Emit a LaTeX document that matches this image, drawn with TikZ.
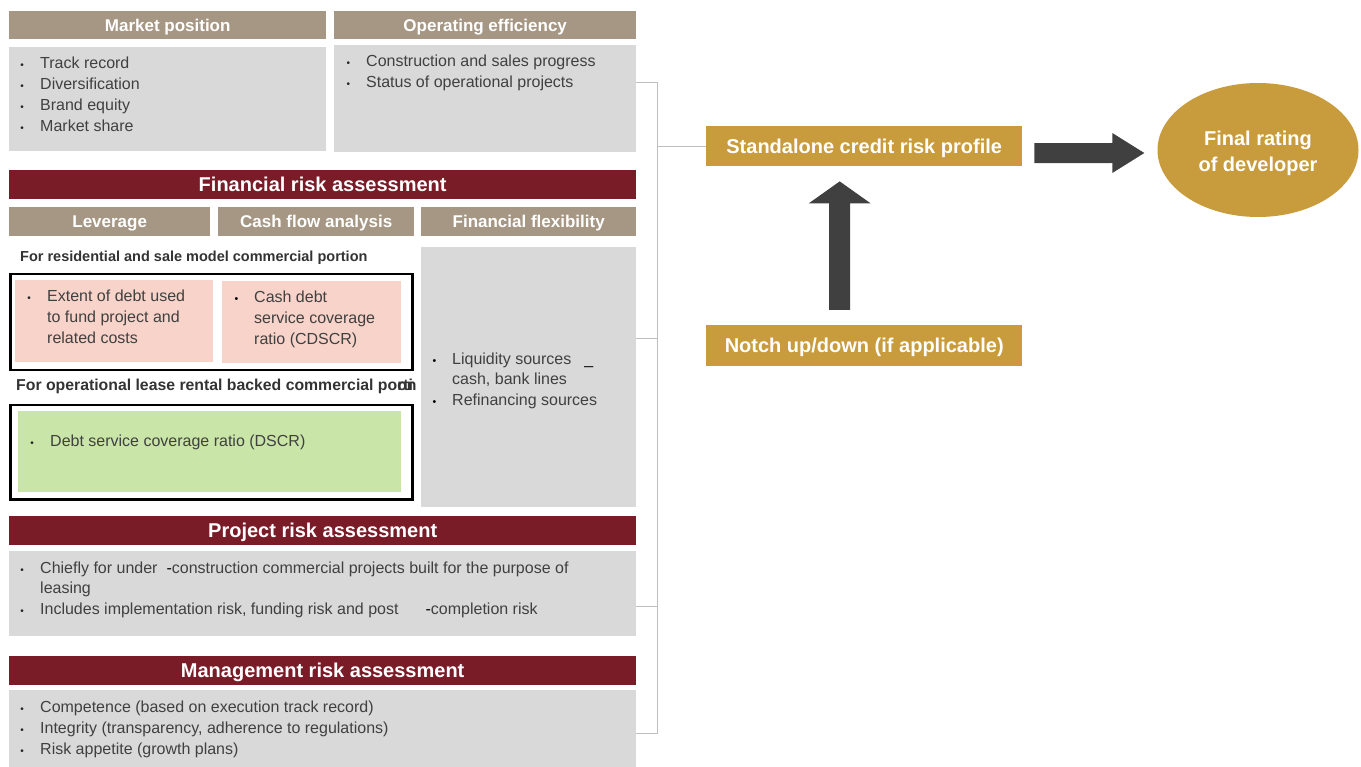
\documentclass[tikz,border=0pt]{standalone}
\usepackage{fontspec}
\setmainfont{Liberation Sans}
\usetikzlibrary{calc,shapes.geometric}
\definecolor{tanc}{HTML}{A69784}
\definecolor{grayb}{HTML}{D9D9D9}
\definecolor{maroon}{HTML}{7A1C28}
\definecolor{gold}{HTML}{C89B3C}
\definecolor{pinkb}{HTML}{F8D3C9}
\definecolor{greenb}{HTML}{C9E6A8}
\definecolor{darkarr}{HTML}{404040}
\definecolor{bodyt}{HTML}{404040}
\definecolor{brk}{HTML}{BFBFBF}
\newcommand{\bu}{\llap{{\color{black!85}\fontsize{10}{10}\selectfont\textbullet}\hspace{16.2pt}}}
\newcommand{\bk}{\llap{{\color{black}\fontsize{10.5}{10}\selectfont\textbullet}\hspace{16pt}}}
\tikzset{
  hdr/.style={fill=tanc, text=white, font=\fontsize{17}{20}\selectfont\bfseries, inner sep=0, anchor=north west, text height=12.2pt, text depth=0pt},
  sec/.style={fill=maroon, text=white, font=\fontsize{20}{24}\selectfont\bfseries, inner sep=0, anchor=north west, minimum width=627, minimum height=28.5, text height=14.4pt, text depth=0pt},
  graybox/.style={fill=grayb, inner sep=0, anchor=north west},
  frame/.style={draw=black, line width=2.5pt, inner sep=0, anchor=north west},
  colbox/.style={inner sep=0, anchor=north west},
  goldbox/.style={fill=gold, text=white, font=\fontsize{20}{24}\selectfont\bfseries, inner sep=0, anchor=north west, minimum width=316, text height=14.4pt, text depth=0pt},
  txt/.style={text=bodyt, font=\fontsize{16}{20.7}\selectfont, inner sep=0, anchor=base west, align=left},
  lbl/.style={text=black!80, font=\fontsize{14.5}{17}\selectfont\bfseries, inner sep=0, anchor=base west},
  arr/.style={fill=darkarr},
  brkline/.style={draw=brk, line width=1pt}
}
\begin{document}
\begin{tikzpicture}[x=1pt,y=-1pt]
\useasboundingbox (0,0) rectangle (1361,767);
% top row
\node[hdr, minimum width=317, minimum height=28] (mph) at (9,11) {Market position};
\node[hdr, minimum width=302, minimum height=28] (oeh) at (334,11) {Operating efficiency};
\node[graybox, minimum width=317, minimum height=104] (mpb) at (9,47) {};
\node[graybox, minimum width=302, minimum height=107] (oeb) at (334,45) {};
\node[txt] (mpt) at (40,131.1) {\bu Track record\\\bu Diversification\\\bu Brand equity\\\bu Market share};
\node[txt] (oet) at (366,87.4) {\bu Construction and sales progress\\\bu Status of operational projects};
% financial risk
\node[sec] (fra) at (9,170) {Financial risk assessment};
\node[hdr, minimum width=201, minimum height=29] (lev) at (9,207) {Leverage};
\node[hdr, minimum width=196, minimum height=29] (cfa) at (218,207) {Cash flow analysis};
\node[hdr, minimum width=215, minimum height=29] (ffh) at (421,207) {Financial flexibility};
\node[lbl] (l1) at (20,261.2) {For residential and sale model commercial portion};
\node[frame, minimum width=402, minimum height=96] (fr1) at (9,273) {};
\node[colbox, fill=pinkb, minimum width=198, minimum height=82] (pk1) at (15,280) {};
\node[colbox, fill=pinkb, minimum width=179, minimum height=82] (pk2) at (222,281) {};
\node[txt] (pt1) at (47,343.1) {\bu Extent of debt used\\to fund project and\\related costs};
\node[txt] (pt2) at (254,344.1) {\bk Cash debt\\service coverage\\ratio (CDSCR)};
\node[lbl, font=\fontsize{15.8}{18}\selectfont\bfseries] (l2) at (16,390.5) {For operational lease rental backed commercial po\rlap{rti}on};
\node[frame, minimum width=402, minimum height=94] (fr2) at (9,404) {};
\node[colbox, fill=greenb, minimum width=383, minimum height=81] (gr) at (18,411) {};
\node[txt] (gt) at (50,446.7) {\bu Debt service coverage ratio (DSCR)};
\node[graybox, minimum width=215, minimum height=260] (ffb) at (421,247) {};
\node[txt] (fft) at (452,405.5) {\bk Liquidity sources\hspace{13pt}{\color{black}\_}\\cash, bank lines\\\bk Refinancing sources};
% project risk
\node[sec] (pra) at (9,516) {Project risk assessment};
\node[graybox, minimum width=627, minimum height=85] (prb) at (9,551) {};
\node[txt] (prt) at (40,614.5) {\bu Chiefly for under\hspace{9pt}{\color{black}-}construction commercial projects built for the purpose of\\leasing\\\bu Includes implementation risk, funding risk and post\hspace{27pt}{\color{black}-}completion risk};
% management risk
\node[sec] (mra) at (9,656) {Management risk assessment};
\node[graybox, minimum width=627, minimum height=77] (mrb) at (9,690) {};
\node[txt] (mrt) at (40,754.2) {\bu Competence (based on execution track record)\\\bu Integrity (transparency, adherence to regulations)\\\bu Risk appetite (growth plans)};
% right side
\node[goldbox, minimum height=40] (sa) at (706,126) {Standalone credit risk profile};
\node[goldbox, minimum height=41] (nu) at (706,325) {Notch up/down (if applicable)};
\node[ellipse, fill=gold, minimum width=201, minimum height=134, inner sep=0] (fr) at (1258,150) {};
\node[text=white, font=\fontsize{20}{26}\selectfont\bfseries, align=center, inner sep=0] (frt) at ($(fr.center)+(0,3)$) {Final rating\\of developer};
% bracket
\coordinate (b1) at ($(oeb.north east)+(0,38)$);
\coordinate (b2) at ($(ffb.north east)+(0,92)$);
\coordinate (b3) at ($(prb.north east)+(0,55)$);
\coordinate (b4) at ($(mrb.north east)+(0,43)$);
\coordinate (sp) at ($(b1)+(21,0)$);
\draw[brkline] (b1) -- (sp) -- (sp |- b4) -- (b4);
\draw[brkline] (b2) -- (sp |- b2);
\draw[brkline] (b3) -- (sp |- b3);
\draw[brkline] (sa.west) -- (sp |- sa.west);
% arrows
\coordinate (rt) at ($(sa.east)+(12,7)$);
\coordinate (rh) at ($(fr.west)+(-13,3)$);
\fill[arr] ($(rt)+(0,-10)$) -- ($(rh)+(-32,-10)$) -- ($(rh)+(-32,-20)$) -- (rh) -- ($(rh)+(-32,20)$) -- ($(rh)+(-32,10)$) -- ($(rt)+(0,10)$) -- cycle;
\coordinate (ut) at ($(nu.north)+(-24.5,-15)$);
\coordinate (uh) at ($(sa.south)+(-24.5,15)$);
\fill[arr] ($(ut)+(-10.5,0)$) -- ($(uh)+(-10.5,22)$) -- ($(uh)+(-31,22)$) -- (uh) -- ($(uh)+(31,22)$) -- ($(uh)+(10.5,22)$) -- ($(ut)+(10.5,0)$) -- cycle;
\end{tikzpicture}
\end{document}
